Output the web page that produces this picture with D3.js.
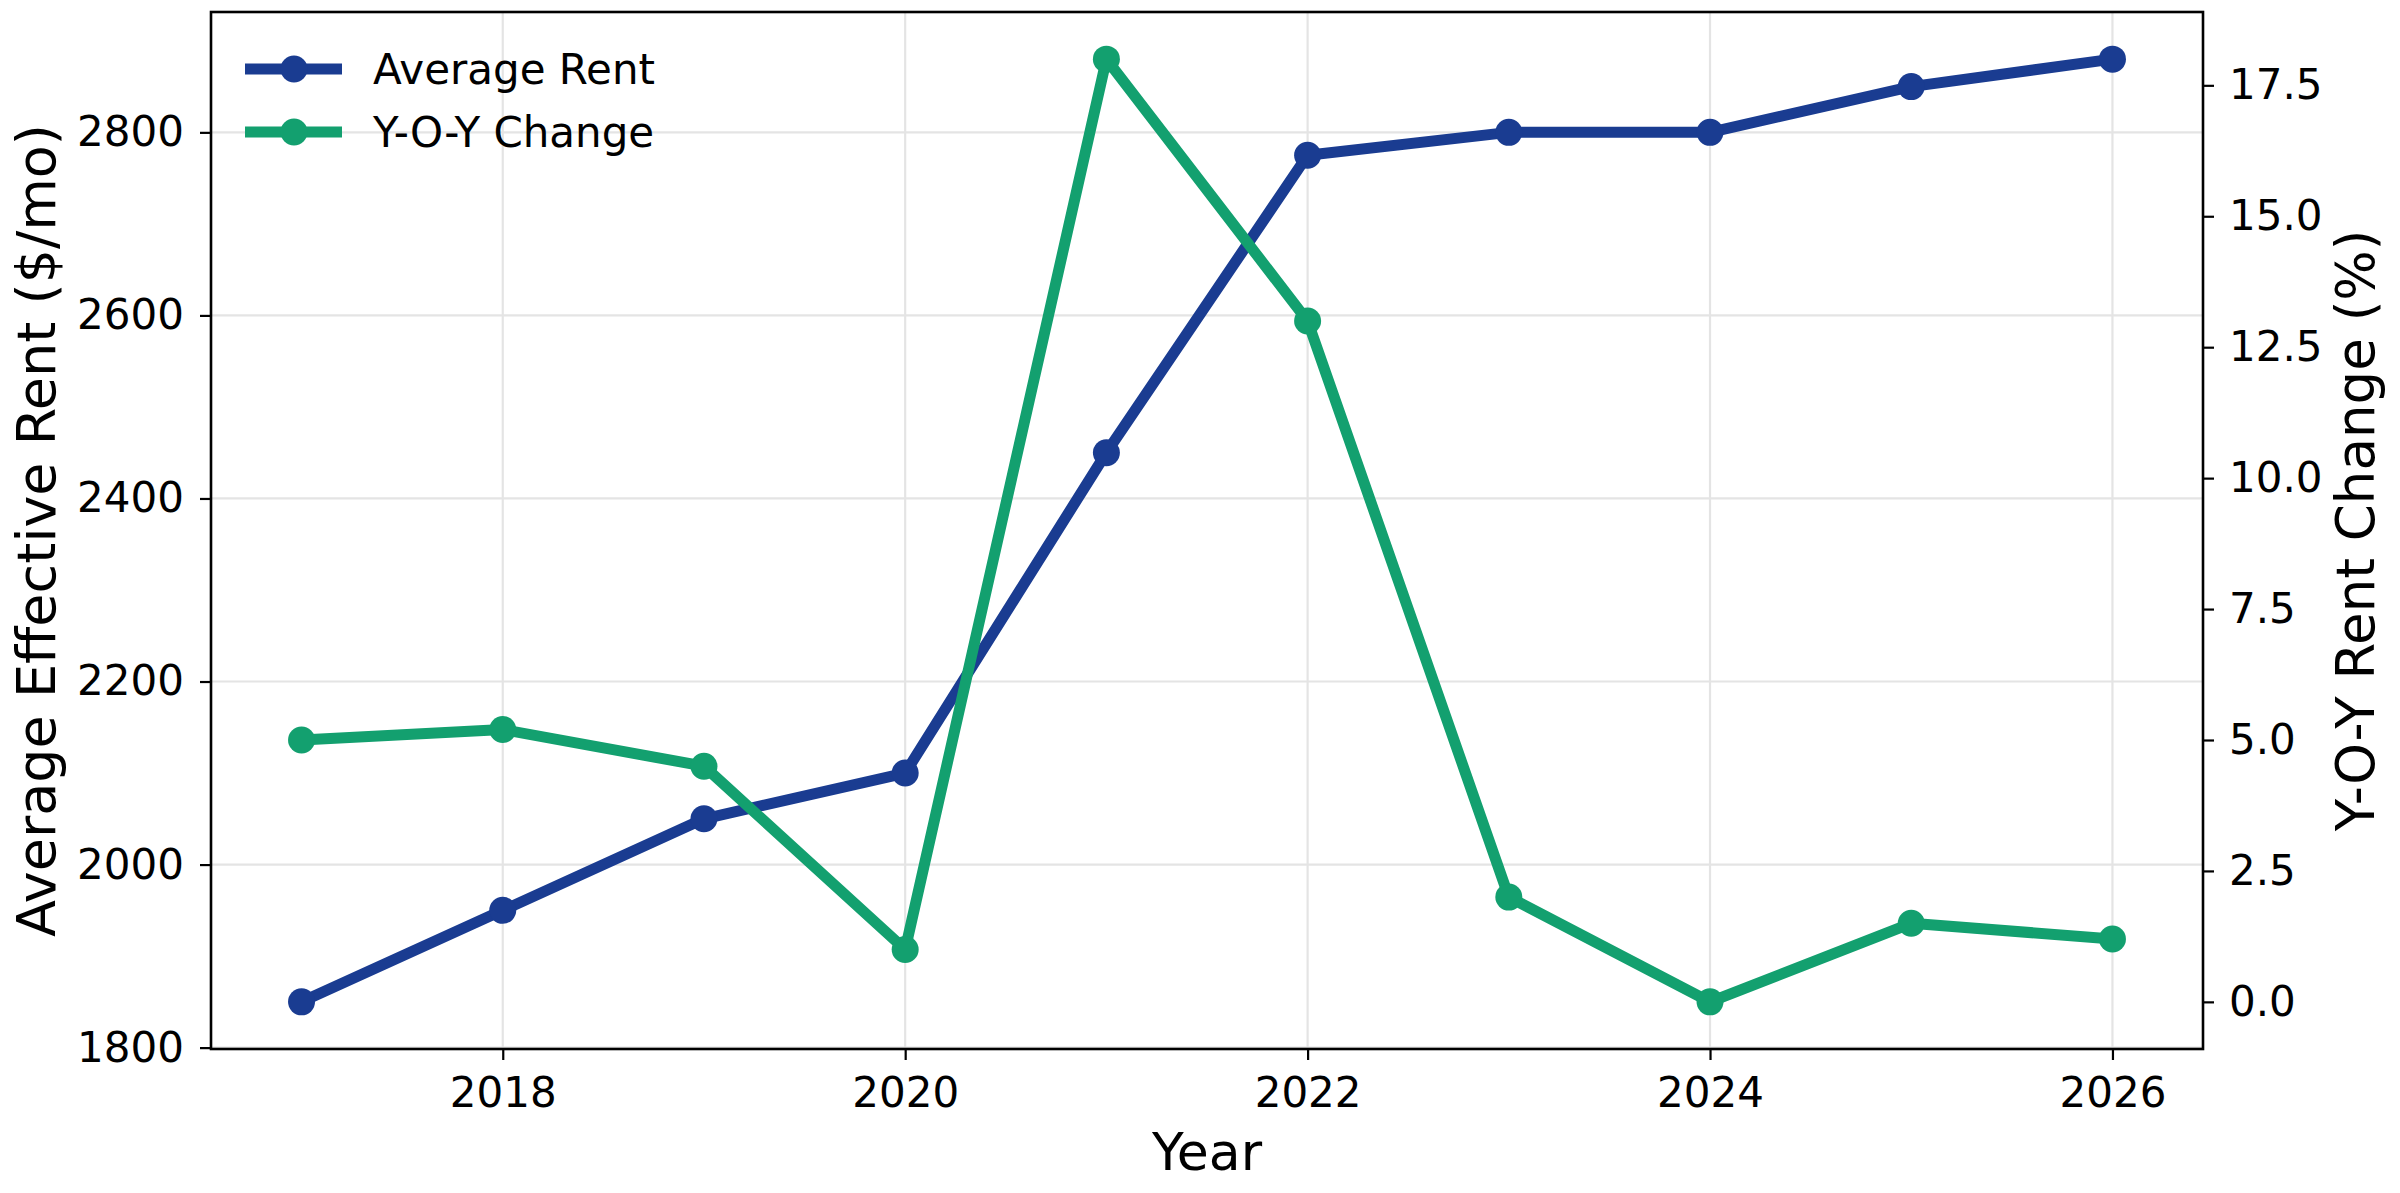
<!DOCTYPE html>
<html>
<head>
<meta charset="utf-8">
<script src="https://cdn.jsdelivr.net/npm/d3@7"></script>
<style>
  body { margin: 0; background: #fff; }
  text { font-family: "DejaVu Sans", sans-serif; fill: #000; }
</style>
</head>
<body>
<svg id="chart" width="2400" height="1193"></svg>
<script>
// data
const years = [2017, 2018, 2019, 2020, 2021, 2022, 2023, 2024, 2025, 2026];
const avgRent = [1850, 1950, 2050, 2100, 2450, 2775, 2800, 2800, 2850, 2880];
const yoyChange = [5.0, 5.2, 4.5, 1.0, 18.0, 13.0, 2.0, 0.0, 1.5, 1.2];
const xTicks = [2018, 2020, 2022, 2024, 2026];
const rentTicks = [1800, 2000, 2200, 2400, 2600, 2800];
const yoyTicks = [0, 2.5, 5, 7.5, 10, 12.5, 15, 17.5];
const seriesNames = ["Average Rent", "Y-O-Y Change"];

const blue = "#1a3c91", green = "#13a06f";

const svg = d3.select("#chart");
const pLeft = 211, pRight = 2203, pTop = 12, pBottom = 1049;

// same 5% padding matplotlib adds
function pad(ext) { const m = (ext[1] - ext[0]) * 0.05; return [ext[0] - m, ext[1] + m]; }

const x = d3.scaleLinear().domain(pad(d3.extent(years))).range([pLeft, pRight]);
const yL = d3.scaleLinear().domain(pad(d3.extent(avgRent))).range([pBottom, pTop]);
const yR = d3.scaleLinear().domain(pad(d3.extent(yoyChange))).range([pBottom, pTop]);

// grid
const grid = svg.append("g").attr("stroke", "#e4e4e4").attr("stroke-width", 2.2);
grid.selectAll("line.gx").data(xTicks).join("line")
  .attr("x1", d => x(d)).attr("x2", d => x(d)).attr("y1", pTop).attr("y2", pBottom);
grid.selectAll("line.gy").data(rentTicks).join("line")
  .attr("x1", pLeft).attr("x2", pRight).attr("y1", d => yL(d)).attr("y2", d => yL(d));

// axes
function styleAxis(g) {
  g.select(".domain").remove();
  g.selectAll(".tick line").attr("stroke", "#000").attr("stroke-width", 2.2);
  g.selectAll(".tick text").style("font-size", "42px").attr("fill", "#000");
}
svg.append("g").attr("transform", `translate(0,${pBottom})`)
  .call(d3.axisBottom(x).tickValues(xTicks).tickFormat(d3.format("d")).tickSize(11).tickPadding(17))
  .call(styleAxis);
svg.append("g").attr("transform", `translate(${pLeft},0)`)
  .call(d3.axisLeft(yL).tickValues(rentTicks).tickFormat(d3.format("d")).tickSize(11).tickPadding(16))
  .call(styleAxis);
svg.append("g").attr("transform", `translate(${pRight},0)`)
  .call(d3.axisRight(yR).tickValues(yoyTicks).tickFormat(d3.format(".1f")).tickSize(11).tickPadding(15))
  .call(styleAxis);

// frame
svg.append("rect").attr("x", pLeft).attr("y", pTop)
  .attr("width", pRight - pLeft).attr("height", pBottom - pTop)
  .attr("fill", "none").attr("stroke", "#000").attr("stroke-width", 2.6);

// series
function drawSeries(vals, yScale, color) {
  const pts = years.map((yr, i) => [yr, vals[i]]);
  const line = d3.line().x(d => x(d[0])).y(d => yScale(d[1]));
  svg.append("path").datum(pts)
    .attr("d", line).attr("fill", "none").attr("stroke", color)
    .attr("stroke-width", 11).attr("stroke-linejoin", "round");
  svg.append("g").selectAll("circle").data(pts).join("circle")
    .attr("cx", d => x(d[0])).attr("cy", d => yScale(d[1]))
    .attr("r", 13.5).attr("fill", color);
}
drawSeries(avgRent, yL, blue);
drawSeries(yoyChange, yR, green);

// legend
const legend = svg.append("g");
[blue, green].forEach((c, i) => {
  const ly = 69 + i * 63;
  legend.append("line").attr("x1", 245).attr("x2", 342).attr("y1", ly).attr("y2", ly)
    .attr("stroke", c).attr("stroke-width", 11);
  legend.append("circle").attr("cx", 294).attr("cy", ly).attr("r", 13.5).attr("fill", c);
  legend.append("text").attr("x", 373).attr("y", ly).attr("dy", "0.36em")
    .style("font-size", "42px").text(seriesNames[i]);
});

// axis labels
svg.append("text").attr("x", (pLeft + pRight) / 2).attr("y", 1170)
  .attr("text-anchor", "middle").style("font-size", "52px").text("Year");
svg.append("text").attr("transform", `translate(55,${(pTop + pBottom) / 2}) rotate(-90)`)
  .attr("text-anchor", "middle").style("font-size", "54px").text("Average Effective Rent ($/mo)");
svg.append("text").attr("transform", `translate(2374,${(pTop + pBottom) / 2}) rotate(-90)`)
  .attr("text-anchor", "middle").style("font-size", "53px").text("Y-O-Y Rent Change (%)");
</script>
</body>
</html>
